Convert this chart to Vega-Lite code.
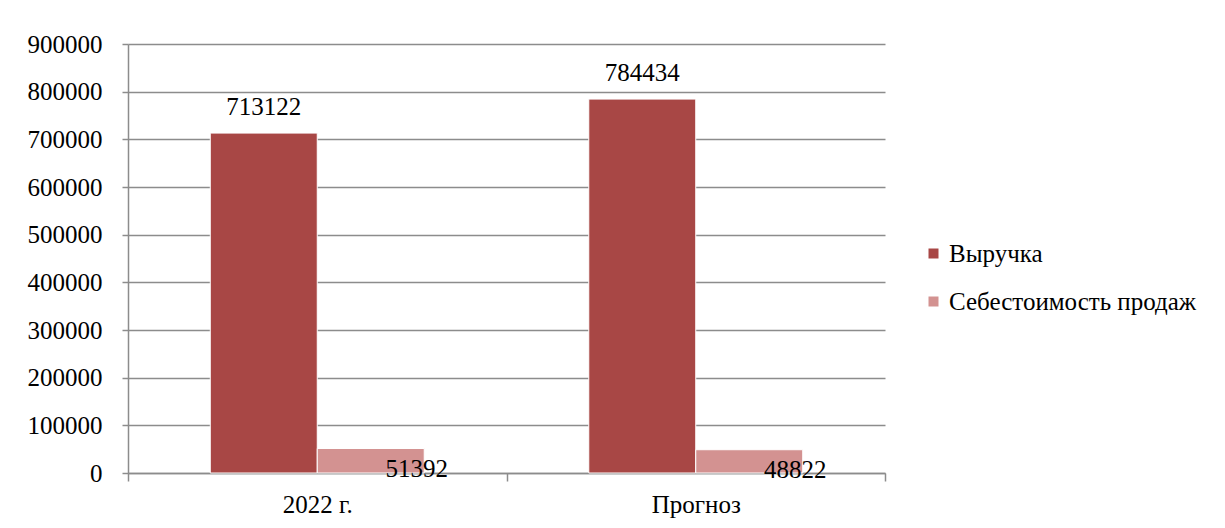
{
  "$schema": "https://vega.github.io/schema/vega-lite/v6.json",
  "width": 757,
  "height": 429,
  "autosize": {"type": "none"},
  "padding": {"left": 128, "top": 44, "right": 340, "bottom": 55},
  "background": "white",
  "config": {
    "font": "Liberation Serif",
    "view": {"stroke": null},
    "text": {"font": "Liberation Serif"},
    "mark": {"font": "Liberation Serif"},
    "axis": {
      "labelFont": "Liberation Serif",
      "labelFontSize": 25,
      "labelColor": "black",
      "domainColor": "#8c8c8c",
      "tickColor": "#8c8c8c",
      "gridColor": "#8c8c8c",
      "domainWidth": 1.5,
      "tickWidth": 1.5,
      "gridWidth": 1.5
    },
    "legend": {"labelFont": "Liberation Serif"}
  },
  "data": {
    "values": [
      {"period": "2022 г.", "series": "Выручка", "value": 713122},
      {"period": "2022 г.", "series": "Себестоимость продаж", "value": 51392},
      {"period": "Прогноз", "series": "Выручка", "value": 784434},
      {"period": "Прогноз", "series": "Себестоимость продаж", "value": 48822}
    ]
  },
  "encoding": {
    "x": {
      "field": "period",
      "type": "nominal",
      "sort": ["2022 г.", "Прогноз"],
      "scale": {"paddingInner": 0, "paddingOuter": 0},
      "axis": {
        "title": null,
        "labelAngle": 0,
        "tickBand": "extent",
        "tickSize": 8,
        "labelPadding": 11,
        "grid": false
      }
    },
    "xOffset": {
      "field": "series",
      "type": "nominal",
      "sort": ["Выручка", "Себестоимость продаж"],
      "scale": {"paddingInner": 0, "paddingOuter": 0.769}
    },
    "y": {
      "field": "value",
      "type": "quantitative",
      "scale": {"domain": [0, 900000], "nice": false},
      "axis": {
        "title": null,
        "values": [0, 100000, 200000, 300000, 400000, 500000, 600000, 700000, 800000, 900000],
        "format": "d",
        "tickSize": 6,
        "labelPadding": 20,
        "grid": true
      }
    }
  },
  "layer": [
    {
      "mark": {"type": "bar", "stroke": "white", "strokeWidth": 1},
      "encoding": {
        "color": {
          "field": "series",
          "type": "nominal",
          "sort": ["Выручка", "Себестоимость продаж"],
          "scale": {"domain": ["Выручка", "Себестоимость продаж"], "range": ["#A84745", "#D39291"]},
          "legend": {
            "title": null,
            "orient": "none",
            "legendX": 793,
            "legendY": 197,
            "symbolType": "square",
            "symbolSize": 100,
            "symbolStrokeWidth": 0,
            "labelFont": "Liberation Serif",
            "labelFontSize": 25,
            "labelLimit": 400,
            "labelColor": "black",
            "labelOffset": 3,
            "rowPadding": 22
          }
        }
      }
    },
    {
      "transform": [{"filter": "datum.series === 'Выручка'"}],
      "mark": {"type": "text", "fontSize": 25, "font": "Liberation Serif", "color": "black", "baseline": "middle", "dy": -26},
      "encoding": {"text": {"field": "value", "type": "quantitative", "format": "d"}}
    },
    {
      "transform": [{"filter": "datum.series === 'Себестоимость продаж'"}],
      "mark": {"type": "text", "fontSize": 25, "font": "Liberation Serif", "color": "black", "baseline": "middle", "dy": 20, "dx": 46},
      "encoding": {"text": {"field": "value", "type": "quantitative", "format": "d"}}
    }
  ]
}
